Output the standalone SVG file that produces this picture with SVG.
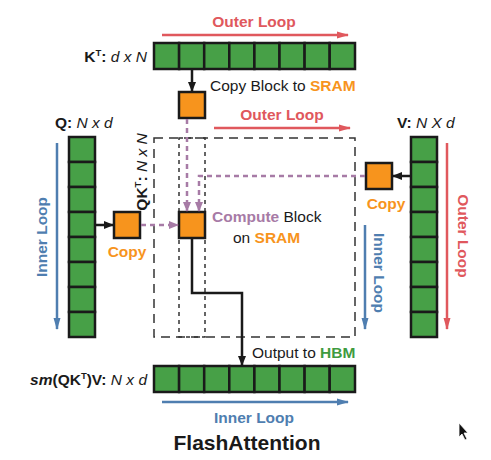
<svg xmlns="http://www.w3.org/2000/svg" width="491" height="460" viewBox="0 0 491 460">
<style>
text{font-family:"Liberation Sans",Arial,sans-serif;font-size:15.5px;fill:#1a1a1a}
.b{font-weight:bold}
.i{font-style:italic}
.sup{font-size:9.5px;font-weight:bold}
.title{font-size:21px;font-weight:bold}
.red{fill:#e0585d}
.blue{fill:#4f7eb0}
.org{fill:#f7941d}
.grn{fill:#3f9b3f}
.pur{fill:#a77ba6}
.cell{fill:#47a047;stroke:#1a1a1a;stroke-width:2.5}
.blk{fill:#f7941d;stroke:#1a1a1a;stroke-width:2.5}
.dbig{fill:none;stroke:#333;stroke-width:1.5;stroke-dasharray:9 6}
.dsmall{fill:none;stroke:#333;stroke-width:1.5;stroke-dasharray:4 4}
.lr{stroke:#e0585d;stroke-width:2.5;fill:none}
.lb{stroke:#4f7eb0;stroke-width:2.5;fill:none}
.ck{stroke:#1a1a1a;stroke-width:2.5;fill:none}
.cp{stroke:#a77ba6;stroke-width:2.5;fill:none;stroke-dasharray:5 4}
</style>
<defs>
<marker id="mr" markerWidth="12" markerHeight="8" refX="11" refY="4" orient="auto" markerUnits="userSpaceOnUse"><path d="M0,0.5 L12,4 L0,7.5 Z" fill="#e0585d"/></marker>
<marker id="mb" markerWidth="12" markerHeight="8" refX="11" refY="4" orient="auto" markerUnits="userSpaceOnUse"><path d="M0,0.5 L12,4 L0,7.5 Z" fill="#4f7eb0"/></marker>
<marker id="mk" markerWidth="10" markerHeight="10" refX="9" refY="5" orient="auto" markerUnits="userSpaceOnUse"><path d="M0,1 L10,5 L0,9 Z" fill="#1a1a1a"/></marker>
<marker id="mp" markerWidth="10" markerHeight="10" refX="9" refY="5" orient="auto" markerUnits="userSpaceOnUse"><path d="M0,1 L10,5 L0,9 Z" fill="#a77ba6"/></marker>
</defs>

<g id="dashed-regions">
<rect class="dbig" x="154" y="138" width="201" height="199"/>
<rect class="dsmall" x="179" y="138" width="26" height="199"/>
</g>

<g id="K-row">
<rect class="cell" x="154" y="43" width="25.1" height="26"/>
<rect class="cell" x="179.1" y="43" width="25.1" height="26"/>
<rect class="cell" x="204.2" y="43" width="25.1" height="26"/>
<rect class="cell" x="229.3" y="43" width="25.1" height="26"/>
<rect class="cell" x="254.4" y="43" width="25.1" height="26"/>
<rect class="cell" x="279.5" y="43" width="25.1" height="26"/>
<rect class="cell" x="304.6" y="43" width="25.1" height="26"/>
<rect class="cell" x="329.7" y="43" width="25.3" height="26"/>
</g>

<g id="Q-column">
<rect class="cell" x="69" y="137" width="26" height="25"/>
<rect class="cell" x="69" y="162" width="26" height="25"/>
<rect class="cell" x="69" y="187" width="26" height="25"/>
<rect class="cell" x="69" y="212" width="26" height="25"/>
<rect class="cell" x="69" y="237" width="26" height="25"/>
<rect class="cell" x="69" y="262" width="26" height="25"/>
<rect class="cell" x="69" y="287" width="26" height="25"/>
<rect class="cell" x="69" y="312" width="26" height="25"/>
</g>

<g id="V-column">
<rect class="cell" x="411" y="137" width="26" height="25"/>
<rect class="cell" x="411" y="162" width="26" height="25"/>
<rect class="cell" x="411" y="187" width="26" height="25"/>
<rect class="cell" x="411" y="212" width="26" height="25"/>
<rect class="cell" x="411" y="237" width="26" height="25"/>
<rect class="cell" x="411" y="262" width="26" height="25"/>
<rect class="cell" x="411" y="287" width="26" height="25"/>
<rect class="cell" x="411" y="312" width="26" height="25"/>
</g>

<g id="O-row">
<rect class="cell" x="154" y="366" width="25.1" height="26"/>
<rect class="cell" x="179.1" y="366" width="25.1" height="26"/>
<rect class="cell" x="204.2" y="366" width="25.1" height="26"/>
<rect class="cell" x="229.3" y="366" width="25.1" height="26"/>
<rect class="cell" x="254.4" y="366" width="25.1" height="26"/>
<rect class="cell" x="279.5" y="366" width="25.1" height="26"/>
<rect class="cell" x="304.6" y="366" width="25.1" height="26"/>
<rect class="cell" x="329.7" y="366" width="25.3" height="26"/>
</g>

<g id="K-block"><rect class="blk" x="179" y="92" width="26" height="26"/></g>
<g id="Q-block"><rect class="blk" x="114" y="212" width="26" height="26"/></g>
<g id="V-block"><rect class="blk" x="366" y="163" width="26" height="26"/></g>
<g id="compute-block"><rect class="blk" x="179" y="212" width="26" height="26"/></g>

<g id="connectors">
<line class="lr" x1="162" y1="35" x2="348" y2="35" marker-end="url(#mr)"/>
<line class="lr" x1="214" y1="128" x2="350" y2="128" marker-end="url(#mr)"/>
<line class="lr" x1="447" y1="143" x2="447" y2="329" marker-end="url(#mr)"/>
<line class="lb" x1="57" y1="143" x2="57" y2="329" marker-end="url(#mb)"/>
<line class="lb" x1="365" y1="225" x2="365" y2="329" marker-end="url(#mb)"/>
<line class="lb" x1="162" y1="402" x2="348" y2="402" marker-end="url(#mb)"/>
<line class="ck" x1="192" y1="70" x2="192" y2="91" marker-end="url(#mk)"/>
<line class="ck" x1="96" y1="225" x2="113" y2="225" marker-end="url(#mk)"/>
<line class="ck" x1="410" y1="176" x2="393" y2="176" marker-end="url(#mk)"/>
<path class="ck" d="M192,239 V293 H242 V365" marker-end="url(#mk)"/>
<path class="cp" d="M187,119 V211" marker-end="url(#mp)"/>
<path class="cp" d="M365,176 H199 V211" marker-end="url(#mp)"/>
<path class="cp" d="M141,225 H178" marker-end="url(#mp)"/>
</g>

<g id="labels">
<text class="b red" x="254" y="27" text-anchor="middle">Outer Loop</text>
<text x="147" y="62" text-anchor="end"><tspan class="b">K</tspan><tspan class="sup" dy="-6">T</tspan><tspan class="b" dy="6">:</tspan><tspan class="i"> d x N</tspan></text>
<text x="210" y="91">Copy Block to <tspan class="b org">SRAM</tspan></text>
<text class="b red" x="282" y="120" text-anchor="middle">Outer Loop</text>
<text x="55" y="128"><tspan class="b">Q:</tspan><tspan class="i"> N x d</tspan></text>
<text x="397" y="128"><tspan class="b">V:</tspan><tspan class="i"> N X d</tspan></text>
<text transform="translate(147,172) rotate(-90)" text-anchor="middle"><tspan class="b">QK</tspan><tspan class="sup" dy="-6">T</tspan><tspan class="b" dy="6">:</tspan><tspan class="i"> N x N</tspan></text>
<text class="b blue" transform="translate(47,237) rotate(-90)" text-anchor="middle">Inner Loop</text>
<text class="b org" x="127" y="257" text-anchor="middle">Copy</text>
<text class="b org" x="386" y="209" text-anchor="middle">Copy</text>
<text x="212" y="222"><tspan class="b pur">Compute</tspan> Block</text>
<text x="233" y="243">on <tspan class="b org">SRAM</tspan></text>
<text class="b blue" transform="translate(374,273) rotate(90)" text-anchor="middle">Inner Loop</text>
<text class="b red" transform="translate(458,236) rotate(90)" text-anchor="middle">Outer Loop</text>
<text x="252" y="358">Output to <tspan class="b grn">HBM</tspan></text>
<text x="147" y="385" text-anchor="end"><tspan class="b i">sm</tspan><tspan class="b">(QK</tspan><tspan class="sup" dy="-6">T</tspan><tspan class="b" dy="6">)V:</tspan><tspan class="i"> N x d</tspan></text>
<text class="b blue" x="254" y="423" text-anchor="middle">Inner Loop</text>
<text class="title" x="247" y="450" text-anchor="middle">FlashAttention</text>
</g>

<g id="cursor">
<path d="M459,423 L459,437 L462,434 L465,440 L467,439 L464,433 L468,433 Z" fill="#111" stroke="#fff" stroke-width="0.8"/>
</g>
</svg>
